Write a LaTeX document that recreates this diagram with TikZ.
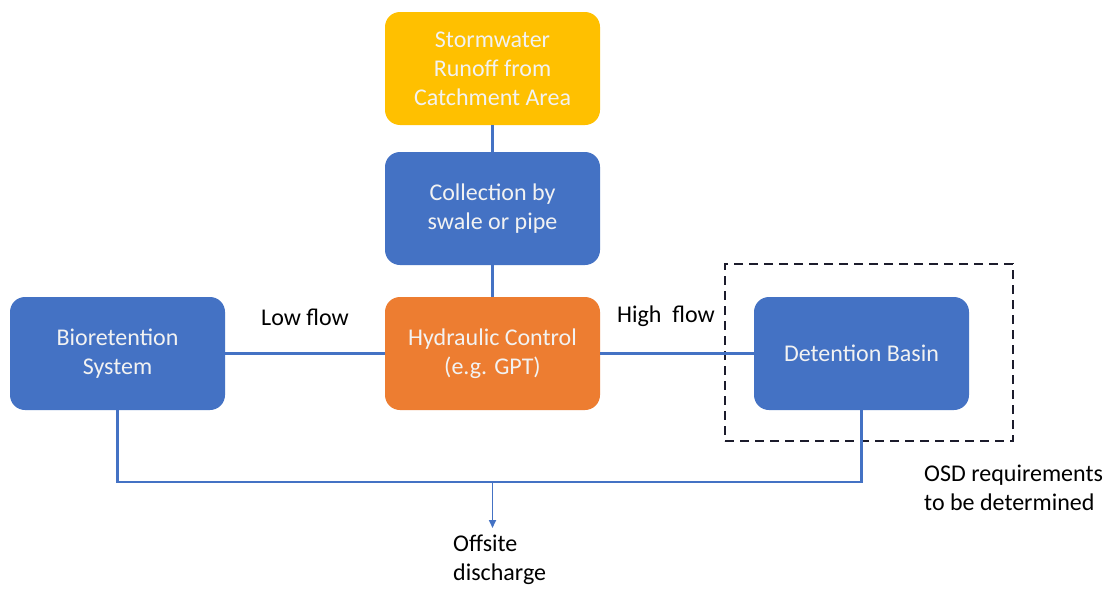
\documentclass[tikz,border=0pt]{standalone}
\usepackage{fontspec}
\setmainfont{Carlito}
\usetikzlibrary{arrows.meta}
\definecolor{cyellow}{HTML}{FFC000}
\definecolor{cblue}{HTML}{4472C4}
\definecolor{corange}{HTML}{ED7D31}
\definecolor{ctext}{HTML}{F2F2F2}
\definecolor{cdash}{HTML}{1C1C2C}
\tikzset{
  boxnode/.style={rounded corners=15pt, minimum width=215pt, minimum height=113pt,
    align=center, text=ctext, inner sep=0pt, font=\fontsize{24}{29}\selectfont},
  conn/.style={draw=cblue, line width=2.6pt},
  lbl/.style={text=black, inner sep=0pt, font=\fontsize{24}{29}\selectfont},
  dashbox/.style={draw=cdash, line width=1.8pt, dash pattern=on 9pt off 6pt}
}
\begin{document}
\begin{tikzpicture}[x=1pt,y=-1pt]
\useasboundingbox (0,0) rectangle (1107,589);
\fill[white] (0,0) rectangle (1107,589);
\node[boxnode, fill=cyellow] (storm) at (492.5,68.5) {Stormwater\\Runoff from\\Catchment Area};
\node[boxnode, fill=cblue] (coll) at (492.5,208.5) {Collection by\\swale or pipe};
\node[boxnode, fill=corange] (hyd) at (492.5,353.5) {Hydraulic Control\\(e.g. GPT)};
\node[boxnode, fill=cblue] (bio) at (117.5,353.5) {Bioretention\\System};
\node[boxnode, fill=cblue] (det) at (861.5,353.5) {Detention Basin};
\node[dashbox, minimum width=288pt, minimum height=177pt, inner sep=0pt] (osdbox) at (869,352.5) {};
\coordinate (jn) at (492.5,482);
\coordinate (out) at (492.5,528);
\draw[conn] (storm) -- (coll);
\draw[conn] (coll) -- (hyd);
\draw[conn] (bio) -- (hyd);
\draw[conn] (hyd) -- (det);
\draw[conn] (bio.south) |- (jn) -| (det.south);
\draw[draw=cblue, line width=1.6pt, -{Triangle[length=8pt,width=7pt]}] (jn) -- (out);
\node[lbl] (low) at (305,317) {Low flow};
\node[lbl] (high) at (666,316) {High\ \ flow};
\node[lbl, align=left, anchor=west] (off) at (453,560) {Offsite\\discharge};
\node[lbl, align=left, anchor=west] (osd) at (924,488) {OSD requirements\\to be determined};
\end{tikzpicture}
\end{document}
